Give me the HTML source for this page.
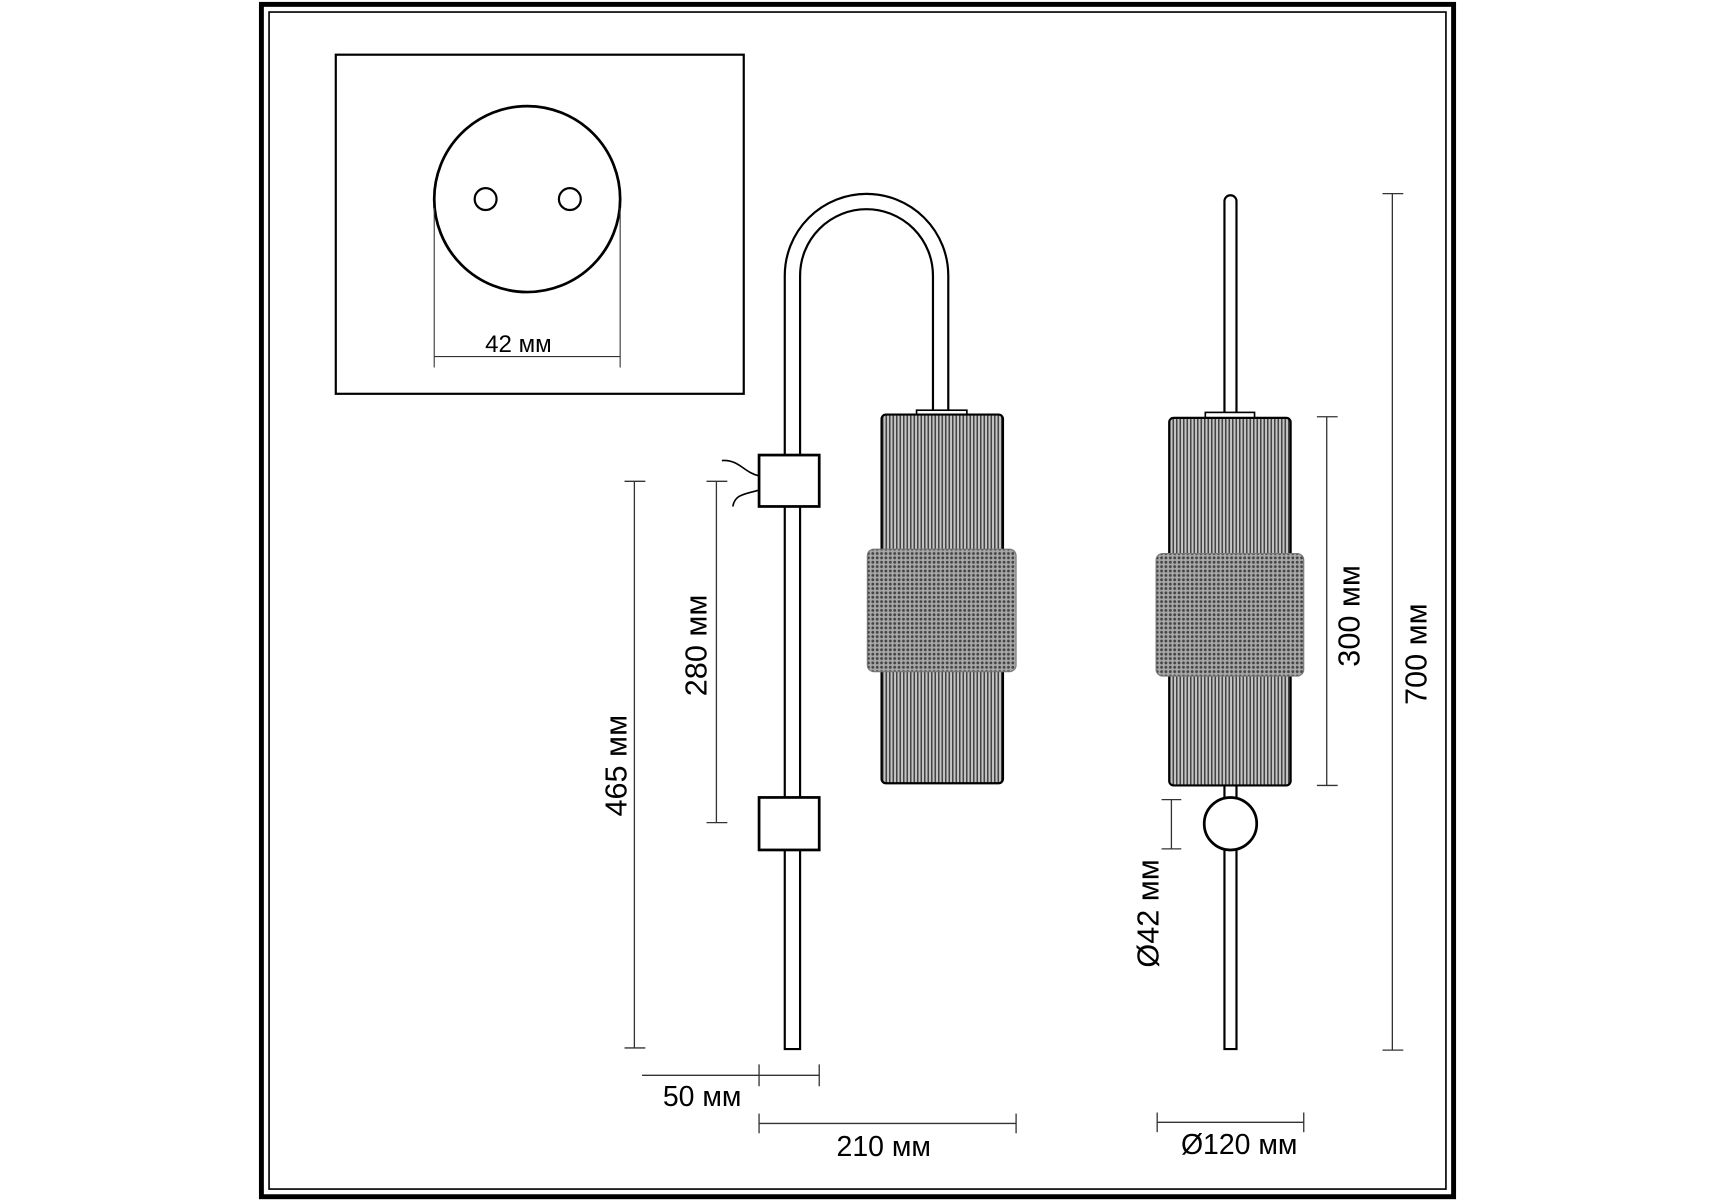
<!DOCTYPE html>
<html><head><meta charset="utf-8"><style>
html,body{margin:0;padding:0;background:#fff}
svg{display:block}
text{font-family:"Liberation Sans","DejaVu Sans",sans-serif;fill:#000}
</style></head><body>
<svg width="1715" height="1200" viewBox="0 0 1568 1097" preserveAspectRatio="none" xmlns="http://www.w3.org/2000/svg">
<defs>
<pattern id="flute" width="3.2" height="10" patternUnits="userSpaceOnUse">
<rect width="3.2" height="10" fill="#c4c4c4"/>
<rect width="1.4" height="10" fill="#444"/>
</pattern>
<pattern id="knurl" width="4" height="4" patternUnits="userSpaceOnUse">
<rect width="4" height="4" fill="#a8a8a8"/>
<circle cx="2" cy="2" r="1.3" fill="#444"/>
</pattern>
</defs>
<rect x="0" y="0" width="1568" height="1097" fill="#fff"/>
<rect x="239" y="4" width="1090" height="1090" fill="none" stroke="#000" stroke-width="4.5"/>
<rect x="246" y="11" width="1076" height="1076" fill="none" stroke="#000" stroke-width="1.5"/>
<rect x="307" y="50" width="373" height="310" fill="none" stroke="#000" stroke-width="2"/>
<circle cx="482" cy="182" r="85" fill="#fff" stroke="#000" stroke-width="2.5"/>
<circle cx="444" cy="182" r="10" fill="#fff" stroke="#000" stroke-width="2"/>
<circle cx="521" cy="182" r="10" fill="#fff" stroke="#000" stroke-width="2"/>
<g stroke="#333" stroke-width="1">
<line x1="397" y1="190" x2="397" y2="336"/><line x1="567" y1="190" x2="567" y2="336"/>
<line x1="397" y1="326" x2="567" y2="326"/>
</g>
<text x="474" y="322" font-size="22" text-anchor="middle">42 мм</text>
<path d="M724.5 960 V252 A67.75 67.75 0 0 1 860 252 V380" fill="none" stroke="#000" stroke-width="16"/>
<path d="M724.5 958 V252 A67.75 67.75 0 0 1 860 252 V382" fill="none" stroke="#fff" stroke-width="12"/>
<path d="M694 435 C680 432 676 420 660 421" fill="none" stroke="#000" stroke-width="1.5"/>
<path d="M694 448 C680 452 672 452 670 463" fill="none" stroke="#000" stroke-width="1.5"/>
<rect x="694" y="416" width="55" height="47" fill="#fff" stroke="#000" stroke-width="2.5"/>
<rect x="694" y="729" width="55" height="48" fill="#fff" stroke="#000" stroke-width="2.5"/>
<rect x="838" y="375" width="46" height="6" fill="#fff" stroke="#000" stroke-width="1.5"/>
<rect x="806" y="379" width="111" height="337" rx="4" fill="url(#flute)" stroke="#000" stroke-width="2"/>
<rect x="793" y="502" width="136" height="112" rx="6" fill="url(#knurl)" stroke="#777" stroke-width="1"/>
<path d="M1125 184 V380" stroke="#000" stroke-width="13" stroke-linecap="round"/>
<path d="M1125 184 V382" stroke="#fff" stroke-width="9" stroke-linecap="round"/>
<path d="M1125 716 V960" stroke="#000" stroke-width="13"/>
<path d="M1125 716 V958" stroke="#fff" stroke-width="9"/>
<rect x="1102" y="377" width="45" height="7" fill="#fff" stroke="#000" stroke-width="1.5"/>
<rect x="1069" y="382" width="111" height="336" rx="4" fill="url(#flute)" stroke="#000" stroke-width="2"/>
<rect x="1057" y="506" width="135" height="112" rx="6" fill="url(#knurl)" stroke="#777" stroke-width="1"/>
<circle cx="1125" cy="753" r="24" fill="#fff" stroke="#000" stroke-width="2.5"/>
<g stroke="#333" stroke-width="1.2" fill="none">
<line x1="580" y1="440" x2="580" y2="958"/><line x1="571" y1="440" x2="590" y2="440"/><line x1="571" y1="958" x2="590" y2="958"/>
<line x1="655" y1="440" x2="655" y2="752"/><line x1="646" y1="440" x2="665" y2="440"/><line x1="646" y1="752" x2="665" y2="752"/>
<line x1="1213" y1="381" x2="1213" y2="718"/><line x1="1204" y1="381" x2="1223" y2="381"/><line x1="1204" y1="718" x2="1223" y2="718"/>
<line x1="1273" y1="177" x2="1273" y2="960"/><line x1="1264" y1="177" x2="1283" y2="177"/><line x1="1264" y1="960" x2="1283" y2="960"/>
<line x1="1071" y1="731" x2="1071" y2="776"/><line x1="1062" y1="731" x2="1080" y2="731"/><line x1="1062" y1="776" x2="1080" y2="776"/>
<line x1="587" y1="983" x2="749" y2="983"/><line x1="694" y1="973" x2="694" y2="993"/><line x1="749" y1="973" x2="749" y2="993"/>
<line x1="694" y1="1027" x2="929" y2="1027"/><line x1="694" y1="1018" x2="694" y2="1036"/><line x1="929" y1="1018" x2="929" y2="1036"/>
<line x1="1058" y1="1026" x2="1192" y2="1026"/><line x1="1058" y1="1017" x2="1058" y2="1035"/><line x1="1192" y1="1017" x2="1192" y2="1035"/>
</g>
<g font-size="28" text-anchor="middle">
<text transform="translate(573,700) rotate(-90)">465 мм</text>
<text transform="translate(646,590) rotate(-90)">280 мм</text>
<text transform="translate(1243,563) rotate(-90)">300 мм</text>
<text transform="translate(1304,598) rotate(-90)">700 мм</text>
<text transform="translate(1059,835) rotate(-90)">Ø42 мм</text>
<text x="642" y="1011" font-size="26">50 мм</text>
<text x="808" y="1057" font-size="26">210 мм</text>
<text x="1133" y="1055" font-size="26">Ø120 мм</text>
</g>
</svg>
</body></html>
